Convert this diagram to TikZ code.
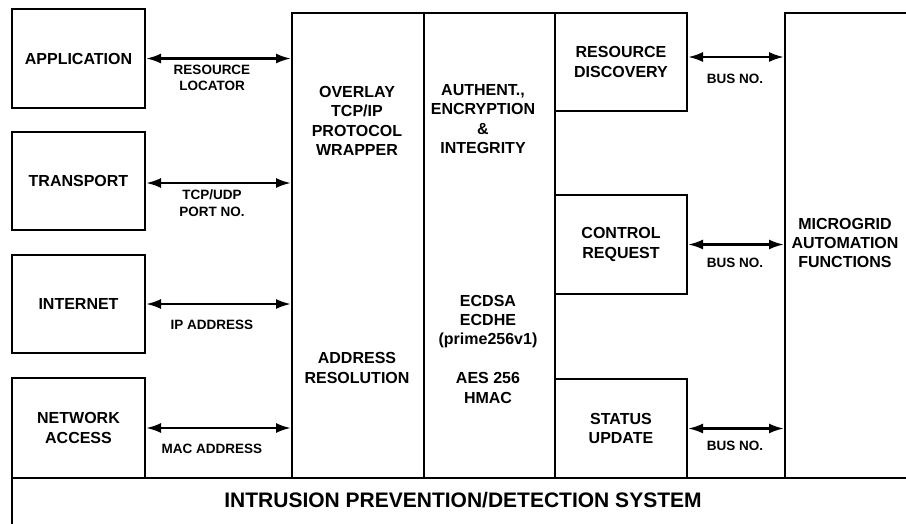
\documentclass[tikz,border=0pt]{standalone}
\usepackage{fontspec}
\setmainfont{Liberation Sans}
\usetikzlibrary{arrows.meta}
\begin{document}
\begin{tikzpicture}[x=1pt,y=-1pt,
  box/.style={draw,line width=2pt,inner sep=0pt,anchor=north west},
  lbl/.style={font=\fontsize{16}{19.4}\selectfont\bfseries,align=center,inner sep=0pt},
  sm/.style={font=\fontsize{13.5}{16.5}\selectfont\bfseries,align=center,inner sep=0pt},
  big/.style={font=\fontsize{21}{25}\selectfont\bfseries,inner sep=0pt},
  tip/.tip={Latex[length=15pt,width=10pt]},
  link/.style={line width=2.4pt,tip-tip}]
\useasboundingbox (0,0) rectangle (906,523);
\clip (0,0) rectangle (906,523);
% left stack
\node[box,minimum width=133pt,minimum height=99pt] (app) at (11,8) {};
\node[box,minimum width=133pt,minimum height=98pt] (trans) at (11,131) {};
\node[box,minimum width=133pt,minimum height=98pt] (inet) at (11,254) {};
\node[box,minimum width=133pt,minimum height=100pt] (net) at (11,377) {};
% columns
\node[box,minimum width=132pt,minimum height=465pt] (ovl) at (291,12) {};
\node[box,minimum width=131pt,minimum height=465pt] (cry) at (423,12) {};
\node[box,minimum width=132pt,minimum height=98pt] (rd) at (554,12) {};
\node[box,minimum width=132pt,minimum height=99pt] (cr) at (554,194) {};
\node[box,minimum width=132pt,minimum height=99pt] (su) at (554,378) {};
\node[box,minimum width=140pt,minimum height=465pt] (mg) at (784,12) {};
\node[box,minimum width=960pt,minimum height=80pt] (ips) at (11,477) {};
% texts
\node[lbl] (tapp) at (app.center) {APPLICATION};
\node[lbl] (ttrans) at (trans.center) {TRANSPORT};
\node[lbl] (tinet) at (inet.center) {INTERNET};
\node[lbl] (tnet) at (net.center) {NETWORK\\ACCESS};
\node[lbl] (tovl) at (357,121) {OVERLAY\\TCP/IP\\PROTOCOL\\WRAPPER};
\node[lbl] (tar) at (357,368) {ADDRESS\\RESOLUTION};
\node[lbl] (tauth) at (483,119) {AUTHENT.,\\ENCRYPTION\\\&\\INTEGRITY};
\node[lbl] (tec) at (488,349) {ECDSA\\ECDHE\\(prime256v1)\\[19.4pt]AES 256\\HMAC};
\node[lbl] (trd) at (rd.center) {RESOURCE\\DISCOVERY};
\node[lbl] (tcr) at (cr.center) {CONTROL\\REQUEST};
\node[lbl] (tsu) at (su.center) {STATUS\\UPDATE};
\node[lbl] (tmg) at (845,243) {MICROGRID\\AUTOMATION\\FUNCTIONS};
\node[big] (tips) at (463,500) {INTRUSION PREVENTION/DETECTION SYSTEM};
% connectors
\draw[link] (app.east) -- (app.east -| ovl.west);
\draw[link] ([yshift=-2pt]trans.east) -- ([yshift=-2pt]trans.east -| ovl.west);
\draw[link] (inet.east) -- (inet.east -| ovl.west);
\draw[link] (net.east) -- (net.east -| ovl.west);
\draw[link] ([yshift=5pt]rd.east) -- ([yshift=5pt]rd.east -| mg.west);
\draw[link] (cr.east) -- (cr.east -| mg.west);
\draw[link] (su.east) -- (su.east -| mg.west);
% connector labels
\node[sm] (l1) at (212,78) {RESOURCE\\LOCATOR};
\node[sm] (l2) at (212,203) {TCP/UDP\\PORT NO.};
\node[sm] (l3) at (212,325) {IP ADDRESS};
\node[sm] (l4) at (212,449) {MAC ADDRESS};
\node[sm] (b1) at (735,79) {BUS NO.};
\node[sm] (b2) at (735,263) {BUS NO.};
\node[sm] (b3) at (735,446) {BUS NO.};
\end{tikzpicture}
\end{document}
